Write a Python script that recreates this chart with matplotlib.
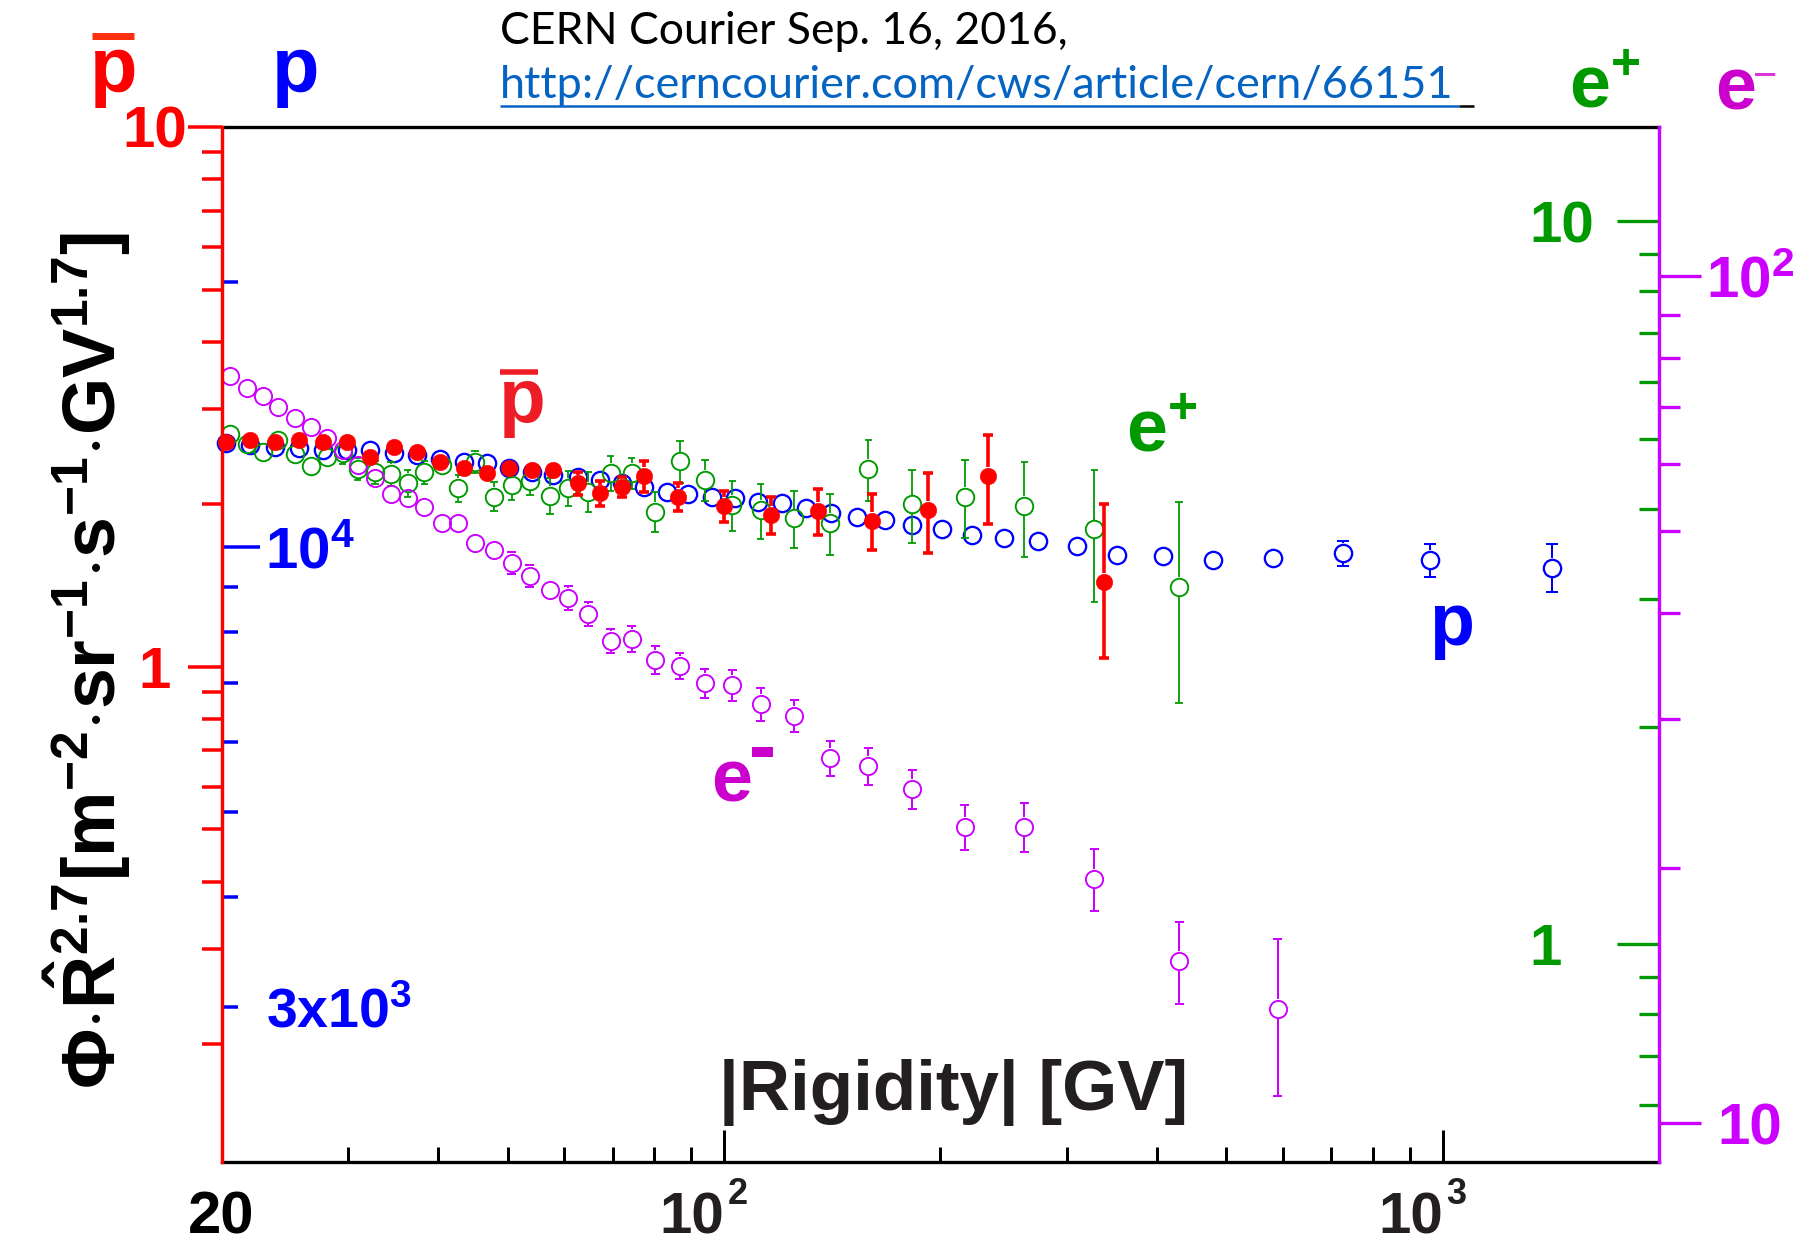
import matplotlib
matplotlib.use("Agg")
import matplotlib.pyplot as plt
import matplotlib.transforms as mtransforms
from matplotlib.collections import LineCollection
from matplotlib.lines import Line2D
import numpy as np

plt.rcParams['font.family'] = ['Liberation Sans', 'DejaVu Sans']
plt.rcParams['mathtext.fontset'] = 'custom'
plt.rcParams['mathtext.rm'] = 'Liberation Sans'
plt.rcParams['mathtext.bf'] = 'Liberation Sans:bold'
plt.rcParams['mathtext.it'] = 'Liberation Sans:italic'

RED = '#ff0000'
BLUE = '#0000ff'
GREEN = '#009a00'
MAG = '#cc00ff'
EMAG = '#cc00cc'

# ── AMS data (flux x R^2.7, each species in its own axis units) ──
# antiprotons
pbar_R = [20.27, 21.91, 23.74, 25.64, 27.66, 29.93, 32.19, 34.75, 37.38, 40.28,
          43.53, 46.77, 50.23, 54.03, 57.89, 62.6, 67.24, 72.1, 77.5, 86.4,
          100.0, 116.2, 135.3, 160.6, 192.1, 233.2, 338.1]
pbar_flux = [2.613, 2.633, 2.613, 2.633, 2.613, 2.606, 2.452, 2.552, 2.504, 2.400,
             2.333, 2.284, 2.333, 2.317, 2.320, 2.189, 2.097, 2.157, 2.258, 2.067,
             1.987, 1.912, 1.945, 1.866, 1.953, 2.261, 1.439]
pbar_err_lo = [0.045, 0.045, 0.045, 0.045, 0.045, 0.045, 0.05, 0.05, 0.05, 0.05,
               0.08, 0.08, 0.08, 0.08, 0.08, 0.105, 0.109, 0.095, 0.149, 0.126,
               0.131, 0.153, 0.19, 0.22, 0.33, 0.425, 0.40]
pbar_err_hi = [0.045, 0.045, 0.045, 0.045, 0.045, 0.045, 0.05, 0.05, 0.05, 0.05,
               0.08, 0.08, 0.08, 0.08, 0.08, 0.105, 0.109, 0.095, 0.149, 0.126,
               0.131, 0.153, 0.19, 0.22, 0.33, 0.425, 0.56]

# protons
p_R = [20.27, 21.91, 23.74, 25.64, 27.66, 29.93, 32.19, 34.75, 37.38, 40.28,
       43.53, 46.77, 50.23, 54.03, 57.89, 62.6, 67.24, 72.1, 77.5, 83.25,
       89.2, 96.2, 103.6, 111.6, 120.3, 130.1, 140.9, 153.0, 167.5, 182.8,
       200.9, 221.2, 245.3, 273.7, 309.6, 352.6, 407.7, 479.6, 581.0, 727.0,
       960.0, 1418.0]
p_flux = [13116, 13058, 13002, 12947, 12889, 12889, 12889, 12800, 12722, 12580,
          12500, 12448, 12286, 12178, 12073, 12001, 11916, 11814, 11691, 11556,
          11487, 11407, 11358, 11258, 11212, 11066, 10940, 10809, 10732, 10593,
          10474, 10318, 10230, 10167, 10026, 9793, 9768, 9665, 9724, 9836,
          9665, 9473]
p_err = [100, 100, 100, 100, 100, 100, 100, 100, 100, 100,
         100, 100, 100, 100, 100, 100, 100, 100, 100, 100,
         100, 100, 100, 100, 100, 100, 100, 100, 100, 100,
         125, 125, 125, 125, 130, 195, 225, 250, 270, 325,
         415, 590]

# positrons
eplus_E = [20.55, 21.68, 22.87, 23.99, 25.31, 26.62, 28.02, 29.49, 30.94, 32.71,
           34.42, 36.31, 38.3, 40.49, 42.7, 45.05, 47.91, 50.66, 53.72, 57.28,
           60.74, 64.75, 69.58, 74.41, 80.21, 86.87, 94.12, 102.7, 112.5, 125.2,
           140.5, 158.8, 182.8, 216.5, 261.8, 327.6, 429.8]
eplus_flux = [5.074, 4.927, 4.799, 4.99, 4.764, 4.587, 4.721, 4.782, 4.546, 4.499,
              4.473, 4.343, 4.499, 4.595, 4.274, 4.646, 4.162, 4.316, 4.372, 4.175,
              4.274, 4.229, 4.489, 4.485, 3.967, 4.657, 4.386, 4.052, 3.987, 3.882,
              3.829, 4.543, 4.061, 4.162, 4.04, 3.748, 3.125]
eplus_err = [0.127, 0.123, 0.12, 0.15, 0.143, 0.151, 0.156, 0.167, 0.159, 0.162,
             0.17, 0.187, 0.162, 0.152, 0.184, 0.167, 0.191, 0.199, 0.188, 0.234,
             0.239, 0.266, 0.251, 0.22, 0.25, 0.307, 0.289, 0.324, 0.347, 0.349,
             0.371, 0.445, 0.467, 0.512, 0.61, 0.776, 0.969]

# electrons
eminus_E = [20.55, 21.68, 22.87, 23.99, 25.31, 26.62, 28.02, 29.49, 30.94, 32.71,
            34.42, 36.31, 38.3, 40.49, 42.7, 45.05, 47.91, 50.66, 53.72, 57.28,
            60.74, 64.75, 69.58, 74.41, 80.21, 86.87, 94.12, 102.7, 112.5, 125.2,
            140.5, 158.8, 182.8, 216.5, 261.8, 327.6, 429.8, 589.8]
eminus_flux = [76.2, 73.8, 72.2, 70.04, 68.0, 66.35, 64.4, 62.3, 59.8, 57.8,
               55.3, 54.7, 53.4, 51.1, 51.1, 48.4, 47.5, 45.85, 44.27, 42.6,
               41.7, 39.93, 37.1, 37.3, 35.24, 34.67, 33.1, 32.92, 31.26, 30.27,
               27.0, 26.42, 24.82, 22.38, 22.38, 19.44, 15.55, 13.65]
eminus_err = [1.14, 1.11, 1.08, 1.05, 1.02, 1.0, 0.97, 0.93, 1.2, 1.16,
              1.11, 1.09, 1.07, 1.28, 1.28, 1.31, 1.33, 1.38, 1.33, 1.15,
              1.38, 1.32, 1.22, 1.34, 1.37, 1.25, 1.29, 1.38, 1.38, 1.33,
              1.27, 1.32, 1.32, 1.39, 1.5, 1.63, 1.74, 2.87]

# ── layout helpers (pixel coords of the 1809x1240 canvas) ──
W, H = 1809, 1240


def fx(px):
    return px / W


def fy(py):
    return 1 - py / H


def pt(px):
    return px * 72.0 / 100.0


fig = plt.figure(figsize=(W / 100, H / 100), dpi=100)
rect = [fx(221.5), fy(1162), fx(1659) - fx(221.5), fy(127) - fy(1162)]
ax_p = fig.add_axes(rect)
ax_ep = fig.add_axes(rect)
ax_em = fig.add_axes(rect)
ax_pb = fig.add_axes(rect)

limits = {ax_p: (2000, 30000), ax_ep: (0.5, 13.5), ax_em: (9, 150), ax_pb: (0.121, 10)}
for a, lim in limits.items():
    a.set_xscale('log')
    a.set_yscale('log')
    a.set_xlim(20, 2000)
    a.set_ylim(*lim)
    for s in a.spines.values():
        s.set_visible(False)
for a in (ax_ep, ax_em, ax_pb):
    a.patch.set_visible(False)
    a.tick_params(axis='x', which='both', bottom=False, top=False)

# frame
for side in ('top', 'bottom'):
    ax_p.spines[side].set_visible(True)
    ax_p.spines[side].set_color('black')
    ax_p.spines[side].set_linewidth(pt(3.3))
ax_pb.spines['left'].set_visible(True)
ax_pb.spines['left'].set_color(RED)
ax_pb.spines['left'].set_linewidth(pt(3.4))
ax_em.spines['right'].set_visible(True)
ax_em.spines['right'].set_color(MAG)
ax_em.spines['right'].set_linewidth(pt(3.4))

# x axis ticks
ax_p.xaxis.set_ticks_position('bottom')
ax_p.set_xticks([100, 1000])
ax_p.set_xticks([30, 40, 50, 60, 70, 80, 90, 200, 300, 400, 500, 600, 700, 800, 900], minor=True)
ax_p.tick_params(axis='x', which='major', direction='in', length=pt(32), width=pt(3), color='black')
ax_p.tick_params(axis='x', which='minor', direction='in', length=pt(15.5), width=pt(3), color='black')

# proton axis (left, inward, blue)
ax_p.yaxis.set_ticks_position('left')
ax_p.set_yticks([1e4])
ax_p.set_yticks([3000, 4000, 5000, 6000, 7000, 8000, 9000, 20000], minor=True)
ax_p.tick_params(axis='y', which='major', direction='in', length=pt(38), width=pt(3.5), color=BLUE)
ax_p.tick_params(axis='y', which='minor', direction='in', length=pt(16), width=pt(3.5), color=BLUE)

# antiproton axis (left, outward, red)
ax_pb.yaxis.set_ticks_position('left')
ax_pb.set_yticks([1, 10])
ax_pb.set_yticks([0.2, 0.3, 0.4, 0.5, 0.6, 0.7, 0.8, 0.9, 2, 3, 4, 5, 6, 7, 8, 9], minor=True)
ax_pb.tick_params(axis='y', which='major', direction='out', length=pt(34), width=pt(3.5), color=RED)
ax_pb.tick_params(axis='y', which='minor', direction='out', length=pt(20), width=pt(3.5), color=RED)

# positron axis (right, inward, green)
ax_ep.yaxis.set_ticks_position('right')
ax_ep.set_yticks([1, 10])
ax_ep.set_yticks([0.6, 0.7, 0.8, 0.9, 2, 3, 4, 5, 6, 7, 8, 9], minor=True)
ax_ep.tick_params(axis='y', which='major', direction='in', length=pt(42), width=pt(3.3), color=GREEN)
ax_ep.tick_params(axis='y', which='minor', direction='in', length=pt(20), width=pt(3.3), color=GREEN)

# electron axis (right, outward, magenta)
ax_em.yaxis.set_ticks_position('right')
ax_em.set_yticks([10, 100])
ax_em.set_yticks([20, 30, 40, 50, 60, 70, 80, 90], minor=True)
ax_em.tick_params(axis='y', which='major', direction='out', length=pt(42), width=pt(3.3), color=MAG)
ax_em.tick_params(axis='y', which='minor', direction='out', length=pt(21), width=pt(3.3), color=MAG)

# the numbers are drawn by hand below, ROOT style
for a in limits:
    a.tick_params(axis='both', which='both', labelbottom=False, labelleft=False,
                  labelright=False, labeltop=False)


def ylabel_at(ax, xpx, yval, s, color, ha, size=42):
    tr = mtransforms.blended_transform_factory(fig.transFigure, ax.transData)
    tr = mtransforms.offset_copy(tr, fig=fig, y=-size * 0.5, units='dots')
    ax.text(fx(xpx), yval, s, transform=tr, ha=ha, va='baseline', color=color,
            fontsize=size, fontweight='bold', clip_on=False)


ylabel_at(ax_pb, 155, 10, '10', RED, 'center')
ylabel_at(ax_pb, 155, 1, '1', RED, 'center')
ylabel_at(ax_p, 265, 1e4, r'$\mathbf{10^{4}}$', BLUE, 'left')
ylabel_at(ax_p, 266, 3000, r'$\mathbf{3x10^{3}}$', BLUE, 'left', size=40)
ylabel_at(ax_ep, 1529, 10, '10', GREEN, 'left')
ylabel_at(ax_ep, 1529, 1, '1', GREEN, 'left')
ylabel_at(ax_em, 1750, 100, r'$\mathbf{10^{2}}$', MAG, 'center')
ylabel_at(ax_em, 1750, 10, '10', MAG, 'center')

# x tick labels
xtr = mtransforms.blended_transform_factory(ax_p.transData, fig.transFigure)
ax_p.text(20, fy(1233), '20', transform=xtr, ha='center', va='baseline',
          fontsize=43, fontweight='bold', color='black', clip_on=False)
for xv, sup in ((100, '2'), (1000, '3')):
    ax_p.text(xv, fy(1233), '10', transform=xtr, ha='right', va='baseline',
              fontsize=42, fontweight='bold', color='#231f20', clip_on=False)
    ax_p.text(xv, fy(1204), sup, transform=mtransforms.offset_copy(xtr, fig=fig, x=4, units='dots'),
              ha='left', va='baseline', fontsize=26, fontweight='bold', color='#231f20', clip_on=False)


def draw_points(ax, x, y, lo, hi, color, ms_px, mew_px, elw_px, cap_px, filled=False, z=3):
    x = np.asarray(x, float)
    y = np.asarray(y, float)
    lo = np.asarray(lo, float)
    hi = np.asarray(hi, float)
    r = (ms_px + mew_px) / 2.0
    trans = ax.transData
    inv = trans.inverted()
    segs = []
    for xi, yi, l, h in zip(x, y, lo, hi):
        px, py = trans.transform((xi, yi))
        _, ptop = trans.transform((xi, yi + h))
        _, pbot = trans.transform((xi, max(yi - l, 1e-9)))
        for end in (ptop, pbot):
            sgn = 1 if end > py else -1
            if abs(end - py) > r + 1:
                segs.append([inv.transform((px, py + sgn * r)), inv.transform((px, end))])
                segs.append([inv.transform((px - cap_px, end)), inv.transform((px + cap_px, end))])
    ax.add_collection(LineCollection(segs, colors=color, linewidths=pt(elw_px), zorder=z),
                      autolim=False)
    ax.plot(x, y, linestyle='none', marker='o', ms=pt(ms_px), mew=pt(mew_px), mec=color,
            mfc=color if filled else 'none', zorder=z + 0.1, clip_on=False)


draw_points(ax_p, p_R, p_flux, p_err, p_err, BLUE, 17.3, 2.3, 2.0, 6)
draw_points(ax_ep, eplus_E, eplus_flux, eplus_err, eplus_err, GREEN, 17.5, 1.9, 1.8, 3.7)
draw_points(ax_em, eminus_E, eminus_flux, eminus_err, eminus_err, MAG, 17.2, 1.9, 2.0, 4.5)
draw_points(ax_pb, pbar_R, pbar_flux, pbar_err_lo, pbar_err_hi, RED, 16.5, 0.5, 3.6, 5, filled=True)

# axis titles
fig.text(fx(87), fy(660),
         r'$\mathbf{\Phi{\cdot}\hat{R}^{2.7}[m^{-2}{\cdot}sr^{-1}{\cdot}s^{-1}{\cdot}GV^{1.7}]}$',
         rotation=90, ha='center', va='center', fontsize=53, color='black')
fig.text(fx(954), fy(1110), '|Rigidity| [GV]', ha='center', va='baseline',
         fontsize=51, fontweight='bold', color='#231f20')

# species labels (top)
fig.text(fx(114), fy(92), 'p', ha='center', va='baseline', fontsize=56, fontweight='bold', color=RED)
fig.add_artist(Line2D([fx(92), fx(134)], [fy(36), fy(36)], transform=fig.transFigure,
                      lw=pt(7), color='#ff3010', solid_capstyle='butt'))
fig.text(fx(296), fy(92), 'p', ha='center', va='baseline', fontsize=56, fontweight='bold', color=BLUE)
fig.text(fx(1569), fy(108), r'$\mathbf{e^{+}}$', ha='left', va='baseline', fontsize=53, color=GREEN)
fig.text(fx(1715), fy(110), 'e', ha='left', va='baseline', fontsize=53, fontweight='bold', color=EMAG)
fig.text(fx(1753), fy(88), '\u2212', ha='left', va='baseline', fontsize=30, color='#dd33dd')

# species labels (inside)
fig.text(fx(522), fy(422), 'p', ha='center', va='baseline', fontsize=55, fontweight='bold', color='#ee1c25')
fig.add_artist(Line2D([fx(500), fx(538)], [fy(371.5), fy(371.5)], transform=fig.transFigure,
                      lw=pt(5.5), color='#ee1c25', solid_capstyle='butt'))
fig.text(fx(1126), fy(452), r'$\mathbf{e^{+}}$', ha='left', va='baseline', fontsize=53, color=GREEN)
fig.text(fx(1452), fy(645), 'p', ha='center', va='baseline', fontsize=53, fontweight='bold', color=BLUE)
fig.text(fx(732), fy(802), 'e', ha='center', va='baseline', fontsize=53, fontweight='bold', color=EMAG)
fig.add_artist(Line2D([fx(752), fx(773)], [fy(752), fy(752)], transform=fig.transFigure,
                      lw=pt(10), color=EMAG, solid_capstyle='butt'))

# source note
fig.text(fx(500), fy(44), 'CERN Courier Sep. 16, 2016,', family='Lato', fontsize=32,
         color='black', ha='left', va='baseline')
fig.text(fx(500), fy(98), 'http://cerncourier.com/cws/article/cern/66151', family='Lato',
         fontsize=32.5, color='#0563c1', ha='left', va='baseline')
fig.add_artist(Line2D([fx(500), fx(1459)], [fy(106), fy(106)], transform=fig.transFigure,
                      lw=pt(2.5), color='#0563c1', solid_capstyle='butt'))
fig.add_artist(Line2D([fx(1459), fx(1474)], [fy(106), fy(106)], transform=fig.transFigure,
                      lw=pt(2.5), color='black', solid_capstyle='butt'))

fig.savefig("out.png", dpi=100)
